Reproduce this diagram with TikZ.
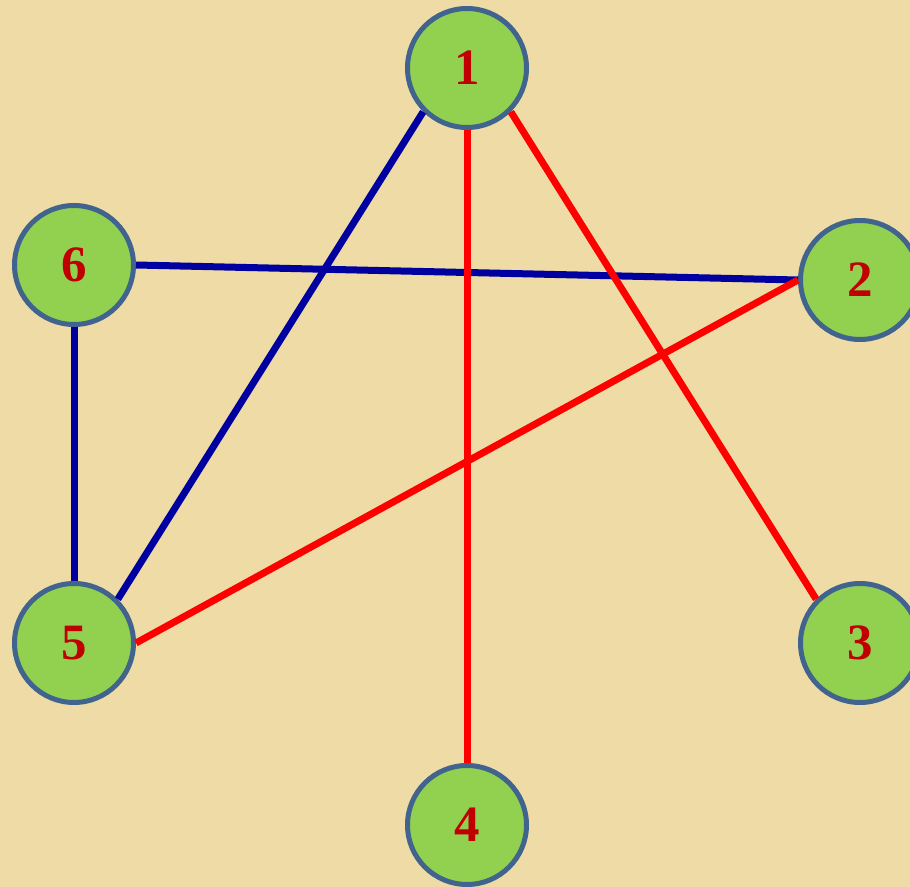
\documentclass[tikz,border=0pt]{standalone}
\usepackage{xcolor}
\usepackage{fontspec}
\setmainfont{Liberation Serif}
\definecolor{paper}{HTML}{EFDBA6}
\definecolor{leaf}{HTML}{92D050}
\definecolor{rim}{HTML}{41648F}
\definecolor{digit}{HTML}{C00000}
\definecolor{redge}{HTML}{FF0000}
\definecolor{bedge}{HTML}{0000A0}

\tikzset{
  vert/.style={circle, draw=rim, fill=leaf, line width=0.1cm, minimum size=2.38cm, inner sep=0pt,
    text=digit, font=\fontsize{29}{29}\selectfont\bfseries},
  redline/.style={redge, line width=0.14cm},
  blueline/.style={bedge, line width=0.14cm}
}

\begin{document}
\begin{tikzpicture}
  \fill[paper] (0,0) rectangle (18.2,17.74);
  \useasboundingbox (0,0) rectangle (18.2,17.74);
  \node[vert] (n1) at (9.34,16.38) {1};
  \node[vert] (n6) at (1.48,12.44) {6};
  \node[vert] (n2) at (17.2,12.14) {2};
  \node[vert] (n5) at (1.48,4.88) {5};
  \node[vert] (n3) at (17.2,4.88) {3};
  \node[vert] (n4) at (9.34,1.24) {4};
  \draw[blueline] (n1.south west) -- (n5.north east);
  \draw[blueline] (n6.east) -- (n2.west);
  \draw[blueline] (n6.south) -- (n5.north);
  \draw[redline] (n1.south) -- (n4.north);
  \draw[redline] (n1.south east) -- (n3.north west);
  \draw[redline] (n2.west) -- (n5.east);
\end{tikzpicture}
\end{document}
